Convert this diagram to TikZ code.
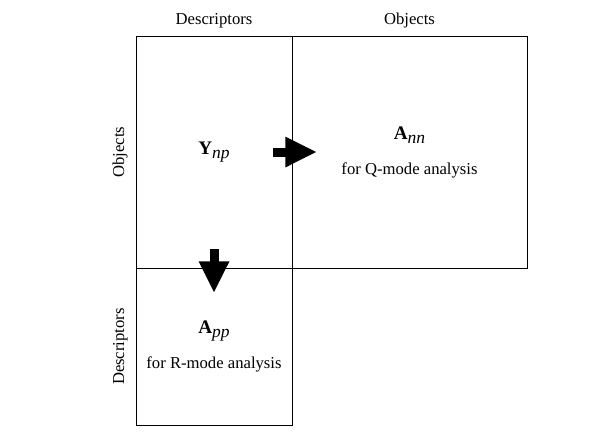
\documentclass[tikz,border=0pt]{standalone}
\usepackage{fontspec}
\setmainfont{Liberation Serif}
\usetikzlibrary{positioning,arrows.meta}

\newcommand{\mtx}[2]{{\fontsize{11.5}{12}\selectfont\textbf{#1}}\raisebox{-0.55ex}{\fontsize{10.5}{12}\selectfont\textit{#2}}}

\tikzstyle{box} = [rectangle, draw=black, line width=0.6pt, inner sep=0pt, outer sep=0pt, align=center]
\tikzstyle{lbl} = [inner sep=0pt, font=\fontsize{10}{12}\selectfont]
\tikzstyle{bigarrow} = [line width=5.4pt, -{Triangle[length=19pt,width=17pt]}]

\begin{document}
\begin{tikzpicture}[x=0.6pt,y=-0.6pt,font=\fontsize{10}{12}\selectfont]
    \useasboundingbox (0,0) rectangle (607,444);
    \node[box, minimum width=93.6pt, minimum height=139.2pt] (Y) at (214,152) {};
    \node[box, minimum width=141pt, minimum height=139.2pt, right=0pt of Y] (Ann)
    {\mtx{A}{nn}\\[9pt]for Q-mode analysis};
    \node[box, minimum width=93.6pt, minimum height=94.2pt, below=0pt of Y] (App)
    {\mtx{A}{pp}\\[9pt]for R-mode analysis};
    \node[lbl] (ynp) at (Y) {\mtx{Y}{np}};
    % headings
    \node[lbl, above=4.8pt of Y] (dtop) {Descriptors};
    \node[lbl, above=4.8pt of Ann] (otop) {Objects};
    \node[lbl, rotate=90, anchor=south] (oleft) at ([xshift=-4.8pt]Y.west) {Objects};
    \node[lbl, rotate=90, anchor=south] (dleft) at ([xshift=-4.8pt]App.west) {Descriptors};
    % arrows
    \coordinate (qfrom) at ([xshift=-11.4pt]Y.east);
    \coordinate (qto) at ([xshift=15pt]Y.east);
    \coordinate (rfrom) at ([yshift=11.4pt]Y.south);
    \coordinate (rto) at ([yshift=-15pt]Y.south);
    \draw [bigarrow] (qfrom) -- (qto);
    \draw [bigarrow] (rfrom) -- (rto);
\end{tikzpicture}
\end{document}
